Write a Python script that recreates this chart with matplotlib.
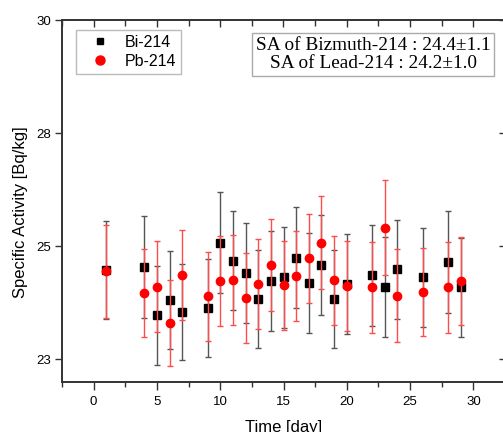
import matplotlib
matplotlib.use("Agg")
import matplotlib.pyplot as plt
from matplotlib.ticker import MultipleLocator
from matplotlib.lines import Line2D

# ---- data ----
days = [1, 4, 5, 6, 7, 9, 10, 11, 12, 13, 14, 15, 16, 17, 18, 19, 20, 22, 23, 24, 26, 28, 29]
bi = [24.47, 24.54, 23.47, 23.81, 23.55, 23.63, 25.08, 24.68, 24.41, 23.83, 24.23,
      24.31, 24.75, 24.19, 24.59, 23.83, 24.16, 24.36, 24.10, 24.49, 24.31, 24.65, 24.09]
bi_err = [1.08, 1.12, 1.10, 1.08, 1.06, 1.08, 1.12, 1.09, 1.11, 1.08, 1.10,
          1.11, 1.11, 1.10, 1.10, 1.08, 1.10, 1.12, 1.11, 1.10, 1.10, 1.12, 1.09]
pb = [24.45, 23.97, 24.11, 23.31, 24.36, 23.89, 24.23, 24.25, 23.86, 24.17, 24.59,
      24.14, 24.34, 24.73, 25.08, 24.25, 24.12, 24.09, 25.41, 23.91, 23.99, 24.09, 24.23]
pb_err = [1.03, 0.98, 1.00, 0.95, 1.00, 0.99, 1.00, 0.99, 0.99, 1.00, 1.01,
          0.98, 1.00, 0.99, 1.02, 0.98, 0.99, 1.00, 1.05, 1.02, 0.98, 1.00, 0.98]
ytick_vals = [22.5, 25, 27.5, 30]
ytick_labels = ["23", "25", "28", "30"]
xtick_vals = [0, 5, 10, 15, 20, 25, 30]
summary = ["SA of Bizmuth-214 : 24.4\u00b11.1", "SA of Lead-214 : 24.2\u00b11.0"]

plt.rcParams['font.family'] = ['Liberation Sans', 'DejaVu Sans']

W, H = 503, 432
fig = plt.figure(figsize=(W / 100, H / 100), dpi=100)
left, right, top, bottom = 62, 505, 20, 382
ax = fig.add_axes([left / W, 1 - bottom / H, (right - left) / W, (bottom - top) / H])

ax.errorbar(days, bi, yerr=bi_err, fmt='s', color='black', ms=5.5, mec='black',
            ecolor='#555555', elinewidth=1.0, capsize=2.5, capthick=1.0, zorder=3)
ax.errorbar(days, pb, yerr=pb_err, fmt='o', color='#ff0000', ms=6, mec='#ff0000',
            ecolor='#ff4d4d', elinewidth=1.0, capsize=2.5, capthick=1.0, zorder=4)

ax.set_xlim(-2.5, 32.5)
ax.set_ylim(22, 30)
ax.set_yticks(ytick_vals)
ax.set_yticklabels(ytick_labels)
ax.set_xticks(xtick_vals)
ax.xaxis.set_minor_locator(MultipleLocator(2.5))

for s in ax.spines.values():
    s.set_color('#333333')
    s.set_linewidth(1.4)

ax.tick_params(axis='x', which='major', direction='out', length=6, width=1, color='#333333',
               labelsize=9.5, pad=4, top=False)
ax.tick_params(axis='x', which='minor', direction='out', length=3.5, width=1, color='#333333', top=False)
ax.tick_params(axis='y', which='major', direction='out', length=5, width=1, color='#333333',
               labelsize=9.5, pad=3, right=False)

# top ticks inward
secx = ax.secondary_xaxis('top')
secx.set_xticks(xtick_vals)
secx.xaxis.set_minor_locator(MultipleLocator(2.5))
secx.set_xticklabels([])
secx.tick_params(axis='x', which='major', direction='in', length=5, width=1, color='#333333')
secx.tick_params(axis='x', which='minor', direction='in', length=4, width=1, color='#333333')
secx.spines['top'].set_visible(False)
# right ticks inward
secy = ax.secondary_yaxis('right')
secy.set_yticks(ytick_vals)
secy.set_yticklabels([])
secy.tick_params(axis='y', which='major', direction='in', length=4, width=1, color='#333333')
secy.spines['right'].set_visible(False)

ax.set_xlabel('Time [day]', fontsize=12, labelpad=9)
ax.set_ylabel('Specific Activity [Bq/kg]', fontsize=12)
ax.yaxis.set_label_coords((28 - left) / (right - left), 1 - (212 - top) / (bottom - top))

handles = [Line2D([], [], ls='none', marker='s', ms=5, color='black'),
           Line2D([], [], ls='none', marker='o', ms=6.5, color='#ff0000')]
leg = ax.legend(handles, ['Bi-214', 'Pb-214'], loc='upper left',
                bbox_to_anchor=((76 - left) / (right - left), 1 - (30 - top) / (bottom - top)),
                fontsize=11.5, frameon=True, fancybox=False, edgecolor='#aaaaaa',
                handletextpad=0.35, borderpad=0.3, labelspacing=0.25, handlelength=2.4,
                borderaxespad=0)
leg.get_frame().set_linewidth(1.0)

ax.text((373 - left) / (right - left), 1 - (54.5 - top) / (bottom - top),
        summary[0] + "\n" + summary[1], transform=ax.transAxes,
        ha='center', va='center', multialignment='center', fontsize=13.9,
        family=['Liberation Serif', 'DejaVu Serif'], linespacing=1.1,
        bbox=dict(boxstyle='square,pad=0.2', fc='white', ec='#aaaaaa', lw=1.0))

fig.savefig('out.png', dpi=100)
